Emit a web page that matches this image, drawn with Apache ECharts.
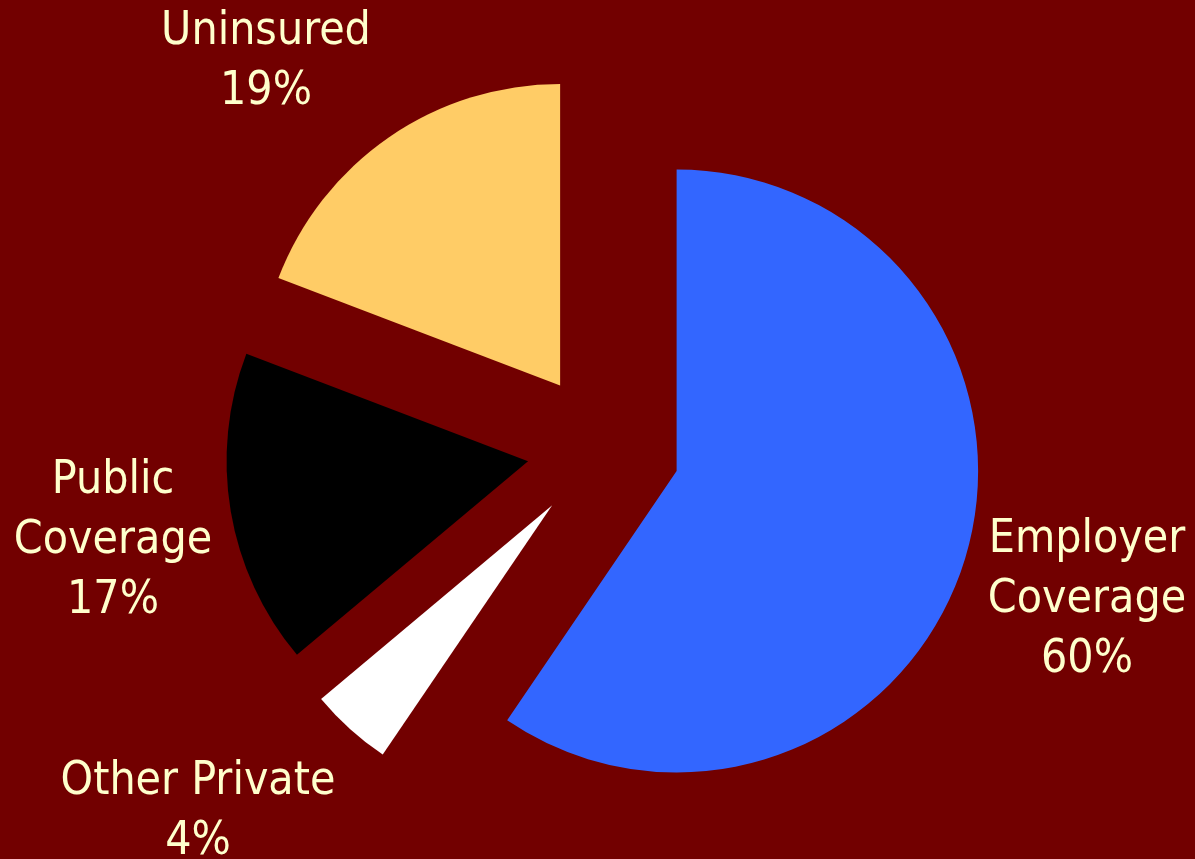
<!DOCTYPE html>
<html>
<head>
<meta charset="utf-8">
<script src="https://cdn.jsdelivr.net/npm/echarts@6/dist/echarts.min.js"></script>
<style>
html,body{margin:0;padding:0;background:#720000;}
#chart{width:1195px;height:859px;}
</style>
</head>
<body>
<div id="chart"></div>
<script>
const categories = ['Employer\nCoverage', 'Other Private', 'Public\nCoverage', 'Uninsured'];
const values = [59.5, 4.4, 16.9, 19.2];
const colors = ['#3366FF', '#FFFFFF', '#000000', '#FFCC66'];
const labelPos = [[1087, 600], [198, 812], [113, 541], [266, 62]];

const total = values.reduce((a, b) => a + b, 0);
const chart = echarts.init(document.getElementById('chart'));
chart.setOption({
  backgroundColor: '#720000',
  animation: false,
  graphic: categories.map((c, i) => ({
    type: 'text',
    x: labelPos[i][0],
    y: labelPos[i][1],
    silent: true,
    style: {
      text: c + '\n' + Math.round(values[i] * 100 / total) + '%',
      fill: '#FFFFCC',
      font: '46px "DejaVu Sans Condensed", "DejaVu Sans", sans-serif',
      lineHeight: 60,
      align: 'center',
      verticalAlign: 'middle'
    }
  })),
  series: [{
    type: 'pie',
    center: [603.5, 448.5],
    radius: [0, 301.5],
    startAngle: 90,
    clockwise: true,
    silent: true,
    selectedMode: 'multiple',
    selectedOffset: 76.5,
    label: { show: false },
    labelLine: { show: false },
    data: categories.map((c, i) => ({
      name: c,
      value: values[i],
      selected: true,
      itemStyle: { color: colors[i], borderWidth: 0 },
      select: { itemStyle: { color: colors[i], borderWidth: 0 } }
    }))
  }]
});
</script>
</body>
</html>
